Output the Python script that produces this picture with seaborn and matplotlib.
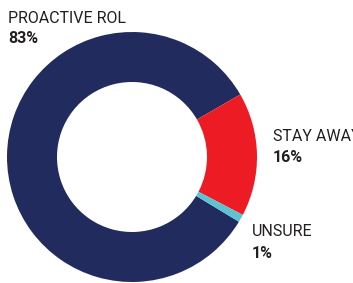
import matplotlib
matplotlib.use('Agg')
import matplotlib.pyplot as plt
import seaborn as sns

# data
labels = ['PROACTIVE ROL', 'STAY AWAY', 'UNSURE']
shares = [83, 16, 1]
colors = ['#222b5e', '#ed1c24', '#5bc3d2']

sns.set_theme(style='white')
plt.rcParams['font.family'] = ['Roboto', 'Liberation Sans', 'DejaVu Sans']

W, H = 353, 283
fig = plt.figure(figsize=(W / 100, H / 100), dpi=100)
# donut box in pixels: x 7..257, y 32..282 (from top)
ax = fig.add_axes([7 / W, (H - 282) / H, 250 / W, 250 / H])
ax.pie(shares, colors=colors, startangle=-31.2, counterclock=False,
       radius=1, wedgeprops=dict(width=0.4, linewidth=0))
ax.set_xlim(-1, 1)
ax.set_ylim(-1, 1)
ax.set_aspect('equal')
ax.axis('off')

# label positions (pixel x, baseline of name, baseline of percent)
label_pos = [(8, 23, 43), (273, 141, 162), (252, 236, 258)]
for name, val, (px, y1, y2) in zip(labels, shares, label_pos):
    fig.text(px / W, 1 - y1 / H, name, fontsize=11.5, color='#231f20',
             va='baseline', ha='left')
    fig.text(px / W, 1 - y2 / H, f'{val}%', fontsize=11.5, color='#231f20',
             fontweight='bold', va='baseline', ha='left')

fig.savefig('out.png', dpi=100)
